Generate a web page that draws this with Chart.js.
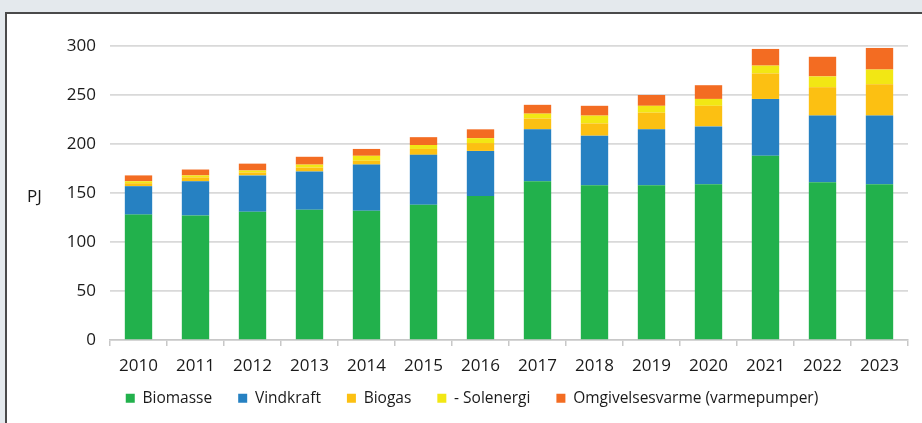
<!DOCTYPE html>
<html>
<head>
<meta charset="utf-8">
<script src="https://cdn.jsdelivr.net/npm/chart.js@4"></script>
<style>
  html, body { margin: 0; padding: 0; background: #e4e9ed; }
  body { width: 922px; height: 423px; position: relative; overflow: hidden; }
  .panel {
    position: absolute; left: 5px; top: 12px; right: 0; bottom: 0;
    background: #fff; border-top: 2px solid #4a4a4a; border-left: 2px solid #4a4a4a;
  }
  .panel canvas { display: block; }
</style>
</head>
<body>
<div class="panel">
  <canvas id="chart" width="915" height="409"></canvas>
</div>
<script>
const years = ["2010", "2011", "2012", "2013", "2014", "2015", "2016", "2017", "2018", "2019", "2020", "2021", "2022", "2023"];
const biomasse = [128, 127, 131, 133, 132, 138, 147, 162, 158, 158, 159, 188, 161, 159];
const vindkraft = [29, 35, 37, 39, 47, 51, 46, 53, 50.5, 57, 59, 58, 68, 70];
const biogas = [3, 4, 3, 4, 4, 6, 8, 11, 12.5, 17, 21, 26, 29, 32];
const solenergi = [2, 2, 2, 3, 5, 4, 5, 5, 8, 7, 7, 8, 11, 15];
const omgivelsesvarme = [6, 6, 7, 8, 7, 8, 9, 9, 10, 11, 14, 17, 20, 22];
const yTicks = [0, 50, 100, 150, 200, 250, 300];

const FONT = "'Open Sans', 'Noto Sans', sans-serif";
const TEXT = "#1a1a1a";

// "PJ" unit label sits horizontally left of the y ticks
const unitLabel = {
  id: "unitLabel",
  afterDraw(chart) {
    const ctx = chart.ctx;
    const y = chart.scales.y.getPixelForValue(150);
    ctx.save();
    ctx.font = "17px " + FONT;
    ctx.fillStyle = TEXT;
    ctx.textAlign = "left";
    ctx.textBaseline = "middle";
    ctx.fillText("PJ", 20, y + 4);
    ctx.restore();
  },
};

function series(label, data, color) {
  return {
    label: label,
    data: data,
    backgroundColor: color,
    borderWidth: 0,
    categoryPercentage: 0.48,
    barPercentage: 1,
  };
}

new Chart(document.getElementById("chart").getContext("2d"), {
  type: "bar",
  data: {
    labels: years,
    datasets: [
      series("Biomasse", biomasse, "#22b14c"),
      series("Vindkraft", vindkraft, "#2681c2"),
      series("Biogas", biogas, "#fcc012"),
      series("- Solenergi", solenergi, "#f2e714"),
      series("Omgivelsesvarme (varmepumper)", omgivelsesvarme, "#f36c22"),
    ],
  },
  options: {
    responsive: false,
    animation: false,
    layout: { padding: { top: 32, right: 14, left: 29, bottom: 7 } },
    scales: {
      x: {
        stacked: true,
        afterFit: (s) => {
          // pull the axis box in so the labels sit closer to the legend, and don't clip them
          s.height -= 22;
          s._computeLabelArea = () => undefined;
        },
        border: { display: true, color: "#c8c8c8", width: 1.5 },
        grid: {
          offset: true,
          drawOnChartArea: false,
          color: "#c8c8c8",
          lineWidth: 1.5,
          tickLength: 6,
        },
        ticks: { color: TEXT, font: { family: FONT, size: 17 }, padding: 10 },
      },
      y: {
        stacked: true,
        min: 0,
        max: 300,
        afterFit: (s) => { s.width = 74; },
        afterBuildTicks: (s) => { s.ticks = yTicks.map((v) => ({ value: v })); },
        border: { display: false },
        grid: { color: "#d9d9d9", lineWidth: 1.8, drawTicks: false },
        ticks: { color: TEXT, font: { family: FONT, size: 17 }, padding: 14 },
      },
    },
    plugins: {
      legend: {
        position: "bottom",
        labels: {
          color: TEXT,
          font: { family: FONT, size: 15.5 },
          boxWidth: 9,
          boxHeight: 9,
          padding: 26,
        },
      },
      tooltip: { enabled: false },
    },
  },
  plugins: [unitLabel],
});
</script>
</body>
</html>
